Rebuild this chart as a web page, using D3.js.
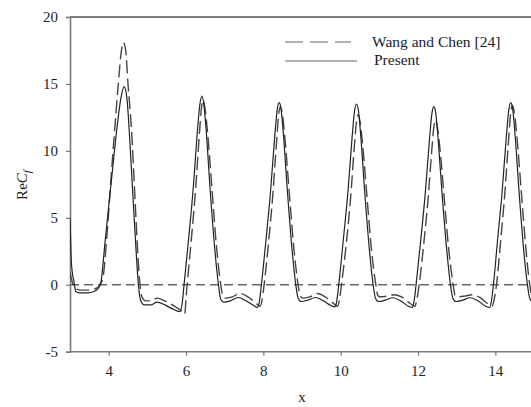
<!DOCTYPE html>
<html><head><meta charset="utf-8">
<script src="https://cdn.jsdelivr.net/npm/d3@7"></script>
<style>
html,body{margin:0;padding:0;background:#fff;}
svg{display:block;font-family:"Liberation Serif","DejaVu Serif",serif;}
</style></head>
<body><svg id="c" width="531" height="407"></svg>
<script>
const xTicks = [4, 6, 8, 10, 12, 14];
const yTicks = [-5, 0, 5, 10, 15, 20];
const legendLabels = ["Wang and Chen [24]", "Present"];

const presentData = [
 [3.00,5.0],[3.03,2.0],[3.06,0.9],[3.10,0.3],[3.15,-0.5],[3.25,-0.6],[3.45,-0.6],[3.62,-0.5],[3.72,-0.3],[3.80,0.2],
 [3.90,3.0],[3.97,5.0],[4.10,8.6],[4.21,11.6],[4.32,14.0],[4.40,14.8],[4.47,14.0],[4.53,11.6],[4.62,7.0],[4.70,3.0],[4.76,0.3],
 [4.82,-1.1],[4.92,-1.5],[5.10,-1.5],[5.25,-1.3],[5.45,-1.5],[5.65,-1.8],[5.84,-2.0],[5.90,-1.4],[5.95,0.0],
 [6.07,3.5],[6.19,7.3],[6.29,11.3],[6.36,13.5],[6.41,14.1],[6.46,13.5],[6.52,11.6],[6.62,7.3],[6.74,2.8],[6.84,0.0],
 [6.90,-1.1],[6.98,-1.3],[7.15,-1.2],[7.35,-0.95],[7.55,-1.2],[7.75,-1.55],[7.85,-1.7],[7.90,-1.2],[7.95,0.0],
 [8.07,3.4],[8.19,7.1],[8.29,10.9],[8.36,13.1],[8.41,13.6],[8.46,13.1],[8.52,11.2],[8.62,7.1],[8.74,2.7],[8.84,0.0],
 [8.90,-1.0],[8.98,-1.25],[9.15,-1.15],[9.35,-0.95],[9.55,-1.2],[9.75,-1.55],[9.85,-1.65],[9.90,-1.2],[9.95,0.0],
 [10.07,3.4],[10.19,7.0],[10.29,10.8],[10.36,13.0],[10.41,13.5],[10.46,13.0],[10.52,11.1],[10.62,7.0],[10.74,2.7],[10.84,0.0],
 [10.90,-1.0],[10.98,-1.25],[11.15,-1.15],[11.35,-0.97],[11.55,-1.2],[11.75,-1.6],[11.85,-1.7],[11.90,-1.2],[11.95,0.0],
 [12.07,3.3],[12.19,6.9],[12.29,10.6],[12.36,12.8],[12.41,13.3],[12.46,12.8],[12.52,10.9],[12.62,6.9],[12.74,2.7],[12.84,0.0],
 [12.90,-1.0],[12.98,-1.25],[13.15,-1.15],[13.35,-0.97],[13.55,-1.2],[13.75,-1.6],[13.85,-1.7],[13.90,-1.2],[13.95,0.0],
 [14.06,3.4],[14.18,7.1],[14.28,10.9],[14.35,13.1],[14.40,13.6],[14.45,13.1],[14.51,11.2],[14.61,7.1],[14.73,2.7],[14.83,0.0],
 [14.89,-1.0],[14.97,-1.25],[15.00,-1.25]
];

const wangData = [
 [3.00,0.9],[3.08,0.0],[3.15,-0.3],[3.30,-0.4],[3.50,-0.4],[3.65,-0.3],[3.75,-0.1],[3.85,0.5],
 [3.95,3.5],[4.05,7.5],[4.14,11.0],[4.25,15.0],[4.33,17.5],[4.38,18.1],[4.44,17.5],[4.50,15.0],[4.59,11.6],[4.68,6.5],[4.76,2.0],[4.81,0.0],
 [4.86,-0.9],[4.95,-1.2],[5.10,-1.2],[5.25,-1.0],[5.45,-1.2],[5.70,-1.6],[5.90,-2.0],[5.97,-2.2],[6.00,-1.0],[6.03,0.0],
 [6.14,3.45],[6.25,7.2],[6.34,11.0],[6.40,13.2],[6.44,13.8],[6.49,13.2],[6.56,11.3],[6.67,7.2],[6.79,2.8],[6.90,0.0],
 [6.95,-0.8],[7.02,-1.0],[7.20,-0.9],[7.40,-0.65],[7.60,-0.9],[7.80,-1.35],[7.92,-1.6],[7.97,-1.1],[8.02,0.0],
 [8.14,3.3],[8.25,6.9],[8.34,10.6],[8.40,12.8],[8.44,13.3],[8.49,12.8],[8.56,10.9],[8.67,6.9],[8.79,2.7],[8.90,0.0],
 [8.95,-0.8],[9.02,-1.0],[9.20,-0.9],[9.40,-0.65],[9.60,-0.9],[9.80,-1.35],[9.92,-1.6],[9.97,-1.1],[10.02,0.0],
 [10.15,3.2],[10.26,6.6],[10.35,10.2],[10.41,12.2],[10.45,12.7],[10.50,12.2],[10.57,10.4],[10.68,6.6],[10.80,2.5],[10.91,0.0],
 [10.96,-0.8],[11.02,-0.9],[11.20,-0.85],[11.40,-0.75],[11.60,-0.95],[11.80,-1.4],[11.92,-1.6],[11.97,-1.1],[12.03,0.0],
 [12.15,3.1],[12.26,6.4],[12.35,9.8],[12.41,11.8],[12.45,12.3],[12.50,11.8],[12.57,10.1],[12.68,6.4],[12.80,2.5],[12.91,0.0],
 [12.96,-0.8],[13.02,-0.9],[13.20,-0.85],[13.40,-0.75],[13.60,-0.95],[13.80,-1.4],[13.92,-1.6],[13.97,-1.1],[14.03,0.0],
 [14.14,3.35],[14.25,7.0],[14.34,10.7],[14.40,12.9],[14.44,13.4],[14.49,12.9],[14.56,11.0],[14.67,7.0],[14.79,2.7],[14.89,0.0],
 [14.94,-0.8],[15.00,-1.0]
];

const svg = d3.select("#c");
const x = d3.scaleLinear().domain([3, 15]).range([70, 534]);
const y = d3.scaleLinear().domain([-5, 20]).range([351.7, 17]);

const axisColor = "#7a7a7a";
svg.append("line").attr("x1", 70).attr("x2", 531).attr("y1", y(20)).attr("y2", y(20))
  .attr("stroke", axisColor).attr("stroke-width", 1.8);

const gy = svg.append("g").attr("transform", "translate(70,0)")
  .call(d3.axisLeft(y).tickValues(yTicks).tickSize(4).tickPadding(8).tickFormat(d => String(d)));
const gx = svg.append("g").attr("transform", `translate(0,${y(-5)})`)
  .call(d3.axisBottom(x).tickValues(xTicks).tickSize(4).tickPadding(10).tickFormat(d => String(d)));
[gx, gy].forEach(g => {
  g.select(".domain").attr("stroke", axisColor).attr("stroke-width", 1.6);
  g.selectAll(".tick line").attr("stroke", axisColor).attr("stroke-width", 1.2);
  g.selectAll(".tick text").attr("fill", "#1e1e28").style("font-family", "'Liberation Serif',serif").style("font-size", "15px");
});
gx.select(".domain").attr("d", `M70,0H531`);

svg.append("line").attr("x1", 70).attr("x2", 531).attr("y1", y(0)).attr("y2", y(0))
  .attr("stroke", "#666").attr("stroke-width", 1.5).attr("stroke-dasharray", "9,5");

const line = d3.line().x(d => x(d[0])).y(d => y(d[1])).curve(d3.curveMonotoneX);

svg.append("clipPath").attr("id", "pc").append("rect")
  .attr("x", 70).attr("y", 10).attr("width", 461).attr("height", 345);

svg.append("path").datum(wangData).attr("d", line).attr("clip-path", "url(#pc)")
  .attr("fill", "none").attr("stroke", "#444").attr("stroke-width", 1.4).attr("stroke-dasharray", "13,5");
svg.append("path").datum(presentData).attr("d", line).attr("clip-path", "url(#pc)")
  .attr("fill", "none").attr("stroke", "#222").attr("stroke-width", 1.2);

const lg = svg.append("g");
lg.append("line").attr("x1", 285).attr("x2", 351).attr("y1", 42).attr("y2", 42)
  .attr("stroke", "#999").attr("stroke-width", 1.6).attr("stroke-dasharray", "18,7");
lg.append("line").attr("x1", 285).attr("x2", 357).attr("y1", 61).attr("y2", 61)
  .attr("stroke", "#999").attr("stroke-width", 1.6);
lg.append("text").attr("x", 372).attr("y", 47).text(legendLabels[0])
  .attr("fill", "#1a1a2a").style("font-size", "15.5px");
lg.append("text").attr("x", 374).attr("y", 65).text(legendLabels[1])
  .attr("fill", "#1a1a2a").style("font-size", "15.5px");

svg.append("text").attr("x", 302).attr("y", 402).attr("text-anchor", "middle")
  .style("font-size", "15px").attr("fill", "#222").text("x");
const yt = svg.append("text").attr("transform", "translate(27,185) rotate(-90)")
  .attr("text-anchor", "middle").style("font-size", "15px").attr("fill", "#222");
yt.append("tspan").text("Re");
yt.append("tspan").style("font-style", "italic").text("C");
yt.append("tspan").style("font-style", "italic").style("font-size", "11px").attr("dy", 4).text("f");
</script></body></html>
